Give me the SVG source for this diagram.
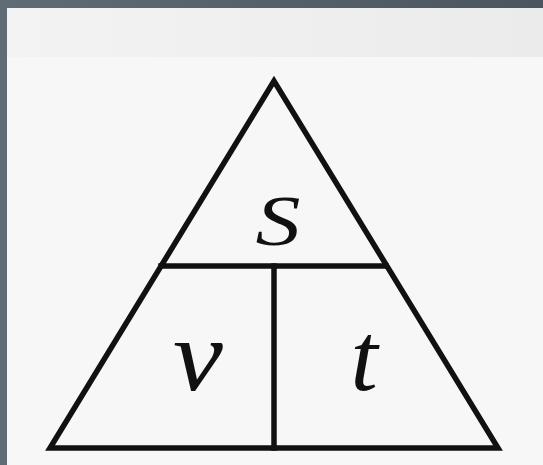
<svg xmlns="http://www.w3.org/2000/svg" width="543" height="465" viewBox="0 0 543 465">
<defs>
<linearGradient id="frame" x1="0" y1="0" x2="1" y2="0">
<stop offset="0" stop-color="#5f6b75"/>
<stop offset="1" stop-color="#4a5560"/>
</linearGradient>
<linearGradient id="band" x1="0" y1="0" x2="1" y2="0">
<stop offset="0" stop-color="#f3f3f3"/>
<stop offset="1" stop-color="#ebebeb"/>
</linearGradient>
</defs>
<style>
.ln{stroke:#111;stroke-width:5.5;fill:none;stroke-linejoin:miter;stroke-linecap:square}
.lbl{font-family:"Liberation Serif","Times New Roman",serif;font-style:italic;fill:#111;text-anchor:middle}
</style>
<rect x="0" y="0" width="543" height="465" fill="url(#frame)"/>
<rect x="7" y="8" width="536" height="457" fill="#f7f7f7"/>
<rect x="7" y="8" width="536" height="49" fill="url(#band)"/>
<g id="connectors">
<polygon class="ln" points="274,81 50,448 498,448"/>
<line class="ln" x1="161" y1="266" x2="386" y2="266"/>
<line class="ln" x1="274" y1="266" x2="274" y2="448"/>
</g>
<g id="node-s"><text class="lbl" x="0" y="0" font-size="72" transform="translate(278,245) scale(1.25,1)">S</text></g>
<g id="node-v"><text class="lbl" x="0" y="0" font-size="102" transform="translate(198,390) scale(1.1,1)">v</text></g>
<g id="node-t"><text class="lbl" x="364" y="390" font-size="98">t</text></g>
</svg>
